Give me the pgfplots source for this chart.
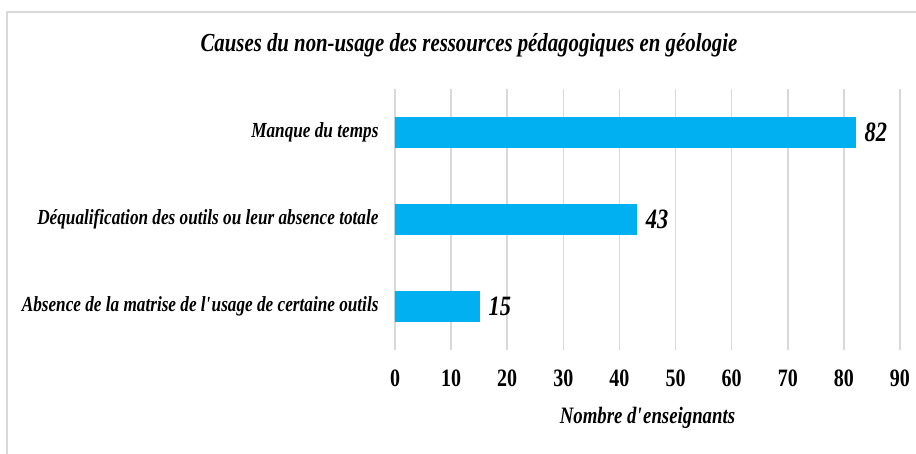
\documentclass[border=0pt]{standalone}
\usepackage{fontspec}
\setmainfont{Liberation Serif}[FakeStretch=0.8]
\usepackage{pgfplots}
\pgfplotsset{compat=1.18}
\definecolor{barblue}{HTML}{00B0F0}
\definecolor{gridgray}{HTML}{D9D9D9}
\begin{document}
\begin{tikzpicture}
\useasboundingbox (0pt,0pt) rectangle (916pt,454pt);
\draw[gridgray, line width=1.5pt] (7pt,0pt) -- (7pt,442pt) -- (916pt,442pt);
\node[font=\fontsize{26}{30}\selectfont\bfseries\itshape] at (469pt,409pt) {Causes du non-usage des ressources pédagogiques en géologie};
\begin{axis}[
  at={(395pt,104pt)}, anchor=south west,
  scale only axis, width=505pt, height=261pt,
  xbar, bar width=30pt,
  xmin=0, xmax=90, ymin=-0.5, ymax=2.5,
  y dir=reverse,
  xtick={0,10,...,90},
  ytick={0,1,2},
  yticklabels={Manque du temps, Déqualification des outils ou leur absence totale, Absence de la matrise de l\textquotesingle usage de certaine outils},
  axis line style={draw=none},
  major tick length=0pt,
  xmajorgrids, grid style={gridgray, line width=1.5pt},
  /pgf/number format/assume math mode=true,
  xticklabel style={font=\fontsize{25}{28}\selectfont\bfseries, yshift=-16pt},
  yticklabel style={font=\fontsize{21.5}{24}\selectfont\bfseries\itshape, xshift=-13pt},
  xlabel={Nombre d\textquotesingle enseignants},
  xlabel style={font=\fontsize{23.5}{26}\selectfont\bfseries\itshape, yshift=-14pt},
  nodes near coords,
  every node near coord/.append style={font=\fontsize{28}{30}\selectfont\bfseries\itshape, xshift=6pt, text=black},
]
\addplot[fill=barblue, draw=barblue] coordinates {(82,0) (43,1) (15,2)};
\end{axis}
\end{tikzpicture}
\end{document}
